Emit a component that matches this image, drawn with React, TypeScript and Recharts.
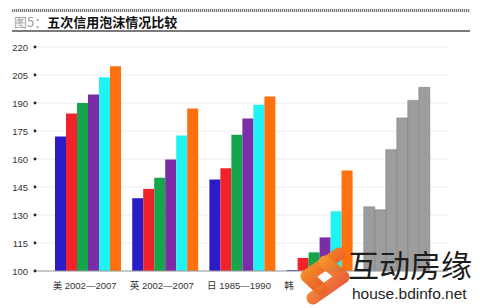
import { Bar, BarChart, CartesianGrid, Cell, XAxis, YAxis } from 'recharts'

const categories = ['美 2002—2007', '英 2002—2007', '日 1985—1990', '韩 1997—2002', '']
const s1 = [172, 139, 149, 100.5, 134.4]
const s2 = [184.4, 144, 155, 107, 132.8]
const s3 = [190, 150, 173, 110, 165]
const s4 = [194.6, 159.7, 181.7, 118, 182]
const s5 = [203.8, 172.6, 189, 132, 191.4]
const s6 = [209.7, 187, 193.5, 153.8, 198.4]
const yTicks = [100, 115, 130, 145, 160, 175, 190, 205, 220]

const colors = ['#2b1cc8', '#f1222a', '#15a64b', '#7b2ca7', '#20f3f3', '#ff700f']
const series = [s1, s2, s3, s4, s5, s6]
const gray = '#9d9d9d'

const data = categories.map((name, i) => {
	const row: Record<string, string | number> = { name }
	series.forEach((s, k) => {
		row['s' + k] = s[i]
	})
	return row
})

const YTick = (props: any) => {
	const { y, payload } = props
	return (
		<g>
			<text x={28} y={y} dy={3.5} textAnchor='end' fontSize={9.5} fill='#333' fontFamily='Liberation Sans, Arial, sans-serif'>
				{payload.value}
			</text>
			<circle cx={35} cy={y} r={1.4} fill='#222' />
		</g>
	)
}

const XTick = (props: any) => {
	const { x, y, payload } = props
	return (
		<text x={x - 4} y={y + 10} textAnchor='middle' fontSize={9.5} fill='#333' fontFamily='Liberation Sans, Noto Sans CJK SC, sans-serif'>
			{payload.value}
		</text>
	)
}

const App = () => {
	return (
		<div style={{ position: 'fixed', left: 0, top: 0, width: 480, height: 308, background: '#fff', overflow: 'hidden' }}>
			<div
				style={{
					position: 'absolute',
					left: 12,
					top: 9,
					width: 458,
					height: 3,
					background: 'repeating-linear-gradient(90deg, #777 0px, #777 1px, #ddd 1px, #ddd 2px)',
				}}
			/>
			<div
				style={{
					position: 'absolute',
					left: 14,
					top: 13,
					fontFamily: 'Noto Sans CJK SC, sans-serif',
					fontSize: 13,
					fontWeight: 700,
					lineHeight: '17px',
					color: '#111',
					whiteSpace: 'nowrap',
				}}
			>
				<span style={{ color: '#a0a0a0', fontWeight: 400 }}>图5：</span>五次信用泡沫情况比较
			</div>
			<div style={{ position: 'absolute', left: 12, top: 30, width: 458, height: 2, background: '#7a7a7a' }} />
			<div style={{ position: 'absolute', left: 0, top: 0 }}>
				<BarChart
					width={480}
					height={308}
					data={data}
					margin={{ top: 47, right: 32, bottom: 7, left: 0 }}
					barGap={0}
					barCategoryGap={5}
				>
					<CartesianGrid horizontal vertical={false} stroke='#ececec' />
					<XAxis
						dataKey='name'
						height={30}
						padding={{ left: 14, right: 12 }}
						axisLine={{ stroke: '#9a9a9a' }}
						tickLine={false}
						tick={<XTick />}
						interval={0}
					/>
					<YAxis
						width={36}
						domain={[100, 220]}
						ticks={yTicks}
						axisLine={false}
						tickLine={false}
						tick={<YTick />}
						allowDataOverflow
					/>
					{colors.map((c, k) => (
						<Bar key={k} dataKey={'s' + k} fill={c} isAnimationActive={false}>
							{data.map((_, i) => (
								<Cell
									key={i}
									fill={i === 4 ? gray : c}
									stroke={i === 4 ? '#808080' : 'none'}
									strokeWidth={i === 4 ? 0.6 : 0}
								/>
							))}
						</Bar>
					))}
				</BarChart>
			</div>
			<div style={{ position: 'absolute', left: 296, top: 276, width: 52, height: 14, background: '#fff' }} />
			<svg style={{ position: 'absolute', left: 293, top: 245 }} width={64} height={62}>
				<defs>
					<linearGradient id='wm' x1='0' y1='0' x2='1' y2='1'>
						<stop offset='0' stopColor='#f8a02a' />
						<stop offset='1' stopColor='#e2402a' />
					</linearGradient>
				</defs>
				<polyline points='46,9 14,31 28,44' fill='none' stroke='url(#wm)' strokeWidth={13} strokeLinejoin='round' strokeLinecap='round' />
				<polyline points='32,17 50,32 20,53' fill='none' stroke='url(#wm)' strokeWidth={13} strokeLinejoin='round' strokeLinecap='round' opacity={0.93} />
			</svg>
			<div
				style={{
					position: 'absolute',
					left: 348,
					top: 244,
					fontFamily: 'Noto Sans CJK SC, sans-serif',
					fontSize: 31,
					lineHeight: '40px',
					color: '#1e1e1e',
					whiteSpace: 'nowrap',
				}}
			>
				互动房缘
			</div>
			<div
				style={{
					position: 'absolute',
					left: 352,
					top: 284,
					fontFamily: 'Liberation Sans, Arial, sans-serif',
					fontSize: 15.5,
					lineHeight: '20px',
					color: '#1e1e1e',
					whiteSpace: 'nowrap',
				}}
			>
				house.bdinfo.net
			</div>
		</div>
	)
}

export default App
